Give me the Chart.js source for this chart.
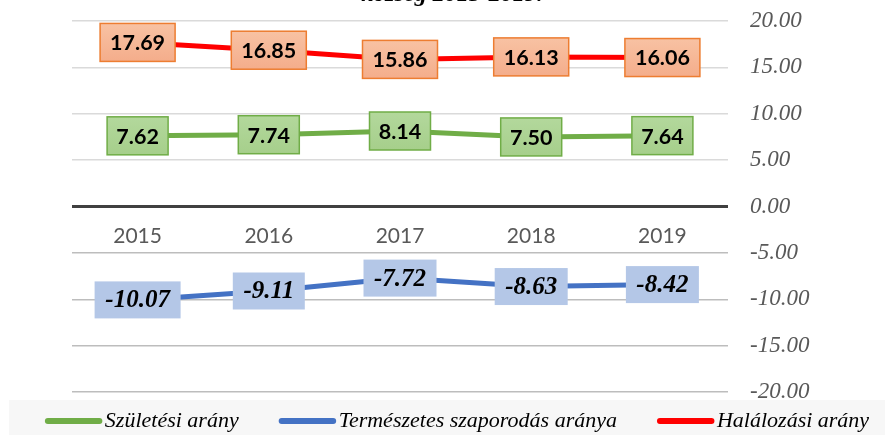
<!DOCTYPE html>
<html><head><meta charset="utf-8">
<script src="https://cdn.jsdelivr.net/npm/chart.js@4.4.1/dist/chart.umd.min.js"></script>
<style>html,body{margin:0;padding:0;background:#fff;}#wrap{width:885px;height:435px;position:relative;}</style>
</head><body><div id="wrap"><canvas id="c" width="885" height="435"></canvas></div>
<script>
const categories = ['2015', '2016', '2017', '2018', '2019'];
const birthRate = [7.62, 7.74, 8.14, 7.50, 7.64];
const naturalIncrease = [-10.07, -9.11, -7.72, -8.63, -8.42];
const deathRate = [17.69, 16.85, 15.86, 16.13, 16.06];
const yTicks = [-20, -15, -10, -5, 0, 5, 10, 15, 20];
const seriesNames = ['Születési arány', 'Természetes szaporodás aránya', 'Halálozási arány'];
const titleText = 'község 2015-2019.';

const labelStyles = [
  {font: 'bold 21.5px Lato', top: '#B3D89C', bot: '#A6CF8B', border: '#70AD47', h: 38, padX: 9, dy: 1},
  {font: 'bold italic 25px "Liberation Serif"', top: '#B4C7E7', bot: '#B4C7E7', border: null, h: 37, padX: 10.5, dy: 1},
  {font: 'bold 21.5px Lato', top: '#F8C2A3', bot: '#F4AD8B', border: '#ED7D31', h: 38, padX: 10, dy: 1}
];

const boxLabels = {
  id: 'boxLabels',
  afterDatasetsDraw(chart) {
    const ctx = chart.ctx;
    chart.data.datasets.forEach((ds, i) => {
      const meta = chart.getDatasetMeta(i);
      const st = labelStyles[i];
      ctx.save();
      ctx.font = st.font;
      meta.data.forEach((pt, j) => {
        const txt = ds.data[j].toFixed(2);
        const w = Math.round(ctx.measureText(txt).width + 2 * st.padX);
        const h = st.h;
        const x = pt.x - w / 2, y = pt.y - h / 2;
        const g = ctx.createLinearGradient(0, y, 0, y + h);
        g.addColorStop(0, st.top); g.addColorStop(1, st.bot);
        ctx.fillStyle = g;
        ctx.fillRect(x, y, w, h);
        if (st.border) { ctx.strokeStyle = st.border; ctx.lineWidth = 1.5; ctx.strokeRect(x, y, w, h); }
        ctx.fillStyle = '#000';
        ctx.textAlign = 'center';
        ctx.textBaseline = 'middle';
        ctx.fillText(txt, pt.x, pt.y + st.dy);
      });
      ctx.restore();
    });
  }
};

// legend strip + title (legend entries come from the chart's datasets)
const legendStrip = {
  id: 'legendStrip',
  afterDraw(chart) {
    const ctx = chart.ctx;
    const stripTop = chart.chartArea.bottom + 8;
    ctx.save();
    ctx.fillStyle = '#F7F7F7';
    ctx.fillRect(9, stripTop, chart.width - 9, chart.height - stripTop);
    ctx.font = 'italic 22px "Liberation Serif"';
    const lineLen = 52, cap = 5, txtGap = 3, itemGap = 40;
    const items = chart.data.datasets.map(ds => ({ds, w: ctx.measureText(ds.label).width}));
    const total = items.reduce((s, it) => s + lineLen + cap + txtGap + it.w, 0) + itemGap * (items.length - 1);
    let x = 457 - total / 2;
    const cy = stripTop + 21;
    items.forEach(it => {
      ctx.strokeStyle = it.ds.borderColor;
      ctx.lineWidth = 6;
      ctx.lineCap = 'round';
      ctx.beginPath();
      ctx.moveTo(x + cap / 2 + 0.5, cy);
      ctx.lineTo(x + cap / 2 + lineLen, cy);
      ctx.stroke();
      x += lineLen + cap + txtGap;
      ctx.fillStyle = '#000';
      ctx.textAlign = 'left';
      ctx.textBaseline = 'middle';
      ctx.fillText(it.ds.label, x, cy);
      x += it.w + itemGap;
    });
    ctx.font = 'bold italic 24px "Liberation Serif"';
    ctx.fillStyle = '#000';
    ctx.textAlign = 'center';
    ctx.textBaseline = 'alphabetic';
    ctx.fillText(titleText, 452, 1);
    ctx.restore();
  }
};

new Chart(document.getElementById('c'), {
  type: 'line',
  data: {
    labels: categories,
    datasets: [
      {label: seriesNames[0], data: birthRate, borderColor: '#70AD47', backgroundColor: '#70AD47'},
      {label: seriesNames[1], data: naturalIncrease, borderColor: '#4472C4', backgroundColor: '#4472C4'},
      {label: seriesNames[2], data: deathRate, borderColor: '#FF0000', backgroundColor: '#FF0000'}
    ].map(d => Object.assign(d, {borderWidth: 5, pointRadius: 0, tension: 0, fill: false, borderCapStyle: 'round', borderJoinStyle: 'round'}))
  },
  options: {
    responsive: false,
    animation: false,
    devicePixelRatio: 1,
    layout: {padding: {top: 21, left: 0, right: 0, bottom: 43}},
    plugins: {
      title: {display: false},
      tooltip: {enabled: false},
      legend: {display: false}
    },
    scales: {
      x: {
        type: 'category',
        position: {y: 0},
        offset: true,
        grid: {display: false, drawTicks: false},
        border: {display: false},
        ticks: {font: {family: 'Lato', size: 21}, color: '#595959', padding: 17, maxRotation: 0}
      },
      y: {
        type: 'linear',
        position: 'right',
        min: -20,
        max: 20,
        afterBuildTicks: s => { s.ticks = yTicks.map(v => ({value: v})); },
        afterFit: s => { s.width = 157; s.paddingTop = 0; s.paddingBottom = 0; },
        ticks: {
          callback: v => Number(v).toFixed(2),
          font: {family: '"Liberation Serif"', style: 'italic', size: 23},
          color: '#595959',
          padding: 22
        },
        grid: {
          drawTicks: false,
          color: c => c.tick.value === 0 ? '#404040' : (c.tick.value > 0 ? '#DADADA' : '#BDBDBD'),
          lineWidth: c => c.tick.value === 0 ? 3 : 1.5
        },
        border: {display: false}
      },
      yL: {
        type: 'linear',
        position: 'left',
        display: true,
        afterFit: s => { s.width = 72; },
        ticks: {display: false},
        grid: {display: false, drawTicks: false},
        border: {display: false}
      }
    }
  },
  plugins: [boxLabels, legendStrip]
});
</script></body></html>
